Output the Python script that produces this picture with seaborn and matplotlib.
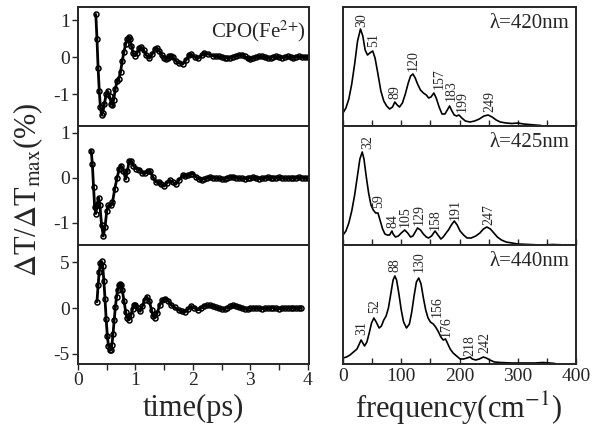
import numpy as np
import pandas as pd
import matplotlib
matplotlib.use('Agg')
import matplotlib.pyplot as plt
import seaborn as sns

sns.set_style('ticks')
plt.rcParams['font.family'] = ['Liberation Serif', 'DejaVu Serif']
plt.rcParams['mathtext.fontset'] = 'stix'
plt.rcParams['axes.unicode_minus'] = False

# ---- time-domain traces ----
t_420 = [0.31, 0.33, 0.35, 0.37, 0.39, 0.41, 0.43, 0.46, 0.49, 0.52,
         0.55, 0.58, 0.60, 0.62, 0.65, 0.68, 0.71, 0.74, 0.77, 0.80,
         0.83, 0.86, 0.88, 0.90, 0.93, 0.96, 0.99, 1.03, 1.07, 1.10,
         1.14, 1.19, 1.24, 1.29, 1.34, 1.37, 1.41, 1.46, 1.50, 1.53,
         1.56, 1.59, 1.62, 1.65, 1.70, 1.76, 1.82, 1.88, 1.93, 1.97,
         2.03, 2.09, 2.15, 2.20, 2.27, 2.35, 2.40, 2.45, 2.50, 2.55,
         2.60, 2.65, 2.70, 2.75, 2.80, 2.85, 2.90, 2.95, 3.00, 3.05,
         3.10, 3.15, 3.20, 3.25, 3.30, 3.35, 3.40, 3.45, 3.50, 3.55,
         3.60, 3.65, 3.70, 3.75, 3.80, 3.85, 3.90, 3.95, 4.00]
dT_420 = [1.15, 0.5, -0.3, -0.9, -1.35, -1.55, -1.5, -1.25, -1.0, -0.92,
          -1.05, -1.25, -1.28, -1.15, -0.85, -0.65, -0.58, -0.4, -0.1, 0.15,
          0.35, 0.5, 0.55, 0.5, 0.3, 0.1, 0.04, 0.12, 0.25, 0.27,
          0.2, 0.05, -0.03, 0.08, 0.22, 0.25, 0.18, 0.05, -0.01, -0.04,
          -0.02, 0.02, 0.02, 0.0, -0.1, -0.16, -0.19, -0.08, 0.05, 0.08,
          0.0, -0.03, 0.05, 0.11, 0.08, 0.04, 0.03, 0.02, 0.0, -0.01,
          -0.02, -0.01, 0.01, 0.03, 0.06, 0.07, 0.02, -0.03, -0.04, -0.02,
          0.0, 0.02, 0.02, 0.0, -0.02, -0.01, 0.01, 0.02, 0.0, -0.01,
          0.01, 0.02, 0.0, -0.01, 0.01, 0.02, 0.0, 0.0, 0.01]

t_425 = [0.23, 0.25, 0.27, 0.29, 0.31, 0.33, 0.36, 0.38, 0.41, 0.44,
         0.47, 0.50, 0.53, 0.57, 0.60, 0.64, 0.68, 0.72, 0.75, 0.79,
         0.83, 0.86, 0.89, 0.92, 0.96, 1.01, 1.07, 1.12, 1.17, 1.21,
         1.25, 1.30, 1.36, 1.41, 1.45, 1.50, 1.55, 1.60, 1.65, 1.70,
         1.76, 1.82, 1.87, 1.92, 1.96, 1.99, 2.05, 2.10, 2.15, 2.20,
         2.25, 2.30, 2.35, 2.40, 2.45, 2.50, 2.55, 2.60, 2.65, 2.70,
         2.75, 2.80, 2.85, 2.90, 2.95, 3.00, 3.05, 3.10, 3.15, 3.20,
         3.25, 3.30, 3.35, 3.40, 3.45, 3.50, 3.55, 3.60, 3.65, 3.70,
         3.75, 3.80, 3.85, 3.90, 3.95, 4.00]
dT_425 = [0.6, 0.3, -0.2, -0.65, -0.8, -0.6, -0.45, -0.6, -1.05, -1.3,
          -1.1, -0.75, -0.62, -0.62, -0.55, -0.25, 0.0, 0.2, 0.27, 0.15,
          -0.03, 0.15, 0.37, 0.38, 0.27, 0.2, 0.18, 0.1, 0.1, 0.15,
          0.14, 0.02, -0.1, -0.09, -0.15, -0.19, -0.12, -0.06, -0.1, -0.15,
          -0.05, 0.05, 0.03, 0.05, 0.08, 0.09, 0.02, -0.03, -0.05, -0.02,
          0.0, 0.01, 0.0, -0.01, -0.01, -0.03, -0.03, 0.0, 0.02, 0.02,
          0.0, -0.01, -0.01, -0.02, -0.01, 0.0, 0.01, -0.01, -0.02, -0.01,
          0.0, 0.01, 0.0, -0.01, 0.0, 0.01, 0.0, -0.01, 0.0, 0.0,
          -0.01, 0.0, 0.01, 0.0, 0.0, 0.0]

t_440 = [0.33, 0.35, 0.37, 0.39, 0.41, 0.43, 0.45, 0.47, 0.49, 0.51,
         0.53, 0.55, 0.57, 0.59, 0.61, 0.63, 0.65, 0.67, 0.69, 0.71,
         0.73, 0.75, 0.77, 0.80, 0.83, 0.86, 0.89, 0.92, 0.95, 0.98,
         1.00, 1.04, 1.08, 1.12, 1.16, 1.20, 1.24, 1.28, 1.31, 1.34,
         1.38, 1.42, 1.47, 1.52, 1.57, 1.62, 1.68, 1.75, 1.81, 1.87,
         1.92, 1.97, 2.02, 2.08, 2.14, 2.20, 2.25, 2.30, 2.35, 2.40,
         2.45, 2.50, 2.55, 2.60, 2.65, 2.70, 2.75, 2.80, 2.85, 2.90,
         2.95, 3.00, 3.05, 3.10, 3.15, 3.20, 3.25, 3.30, 3.35, 3.40,
         3.45, 3.50, 3.55, 3.60, 3.65, 3.70, 3.75, 3.80, 3.85, 3.88]
dT_440 = [0.7, 2.5, 4.0, 4.9, 5.1, 4.6, 3.0, 1.0, -1.2, -3.0,
          -4.1, -4.6, -4.6, -4.0, -2.8, -1.3, 0.1, 1.2, 2.0, 2.5,
          2.65, 2.55, 2.0, 0.8, -0.4, -1.1, -1.25, -0.8, -0.1, 0.35,
          0.4, 0.0, -0.35, 0.2, 0.9, 1.2, 0.8, -0.2, -0.9, -1.05,
          -0.5, 0.3, 0.9, 1.05, 0.8, 0.35, 0.1, -0.2, -0.35, -0.4,
          -0.1, 0.2, 0.05, -0.2, 0.0, 0.25, 0.3, 0.3, 0.25, 0.1,
          0.0, -0.1, -0.05, 0.05, 0.2, 0.3, 0.25, 0.1, 0.0, -0.1,
          -0.05, 0.0, 0.05, 0.05, 0.0, -0.05, 0.0, 0.0, 0.05, 0.05,
          0.0, -0.05, 0.0, 0.0, 0.02, 0.02, 0.0, 0.0, 0.0, 0.0]

# ---- Fourier spectra (arb. units) ----
f_420 = [0, 5, 10, 15, 20, 25, 30, 34, 38, 42, 46, 51, 55, 60, 65, 70, 75, 80,
         85, 89, 93, 97, 102, 107, 112, 116, 120, 124, 128, 133, 138, 143, 147,
         151, 156, 160, 165, 170, 175, 179, 183, 187, 191, 195, 199, 204, 210,
         218, 226, 234, 242, 249, 256, 263, 270, 280, 290, 300, 310, 320, 330, 340]
a_420 = [0.13, 0.18, 0.27, 0.42, 0.62, 0.85, 0.97, 0.90, 0.76, 0.71, 0.73, 0.75,
         0.68, 0.52, 0.35, 0.25, 0.20, 0.17, 0.19, 0.24, 0.21, 0.19, 0.23, 0.32,
         0.43, 0.50, 0.52, 0.48, 0.42, 0.36, 0.33, 0.31, 0.28, 0.29, 0.33, 0.28,
         0.19, 0.12, 0.12, 0.16, 0.20, 0.15, 0.11, 0.10, 0.11, 0.08, 0.05, 0.04,
         0.05, 0.07, 0.10, 0.11, 0.09, 0.06, 0.04, 0.03, 0.025, 0.03, 0.02,
         0.015, 0.01, 0.005]

f_425 = [0, 5, 10, 15, 20, 25, 29, 33, 36, 40, 44, 48, 52, 56, 60, 64, 68, 72,
         76, 80, 84, 86, 90, 95, 100, 106, 111, 116, 120, 124, 128, 133, 138,
         143, 147, 152, 158, 163, 168, 172, 177, 181, 186, 191, 196, 201, 207,
         213, 220, 228, 235, 241, 247, 253, 259, 265, 272, 280, 290, 300, 320,
         340, 360, 385]
a_425 = [0.10, 0.14, 0.22, 0.34, 0.50, 0.70, 0.86, 0.93, 0.86, 0.68, 0.52, 0.40,
         0.35, 0.32, 0.32, 0.24, 0.16, 0.11, 0.10, 0.10, 0.14, 0.11, 0.08, 0.09,
         0.12, 0.15, 0.12, 0.08, 0.09, 0.13, 0.17, 0.15, 0.11, 0.08, 0.07, 0.09,
         0.14, 0.10, 0.06, 0.08, 0.12, 0.15, 0.20, 0.24, 0.20, 0.14, 0.10, 0.07,
         0.07, 0.09, 0.12, 0.16, 0.18, 0.16, 0.12, 0.08, 0.05, 0.03, 0.02, 0.01,
         0.005, 0.0, 0.005, 0.0]

f_440 = [0, 6, 12, 18, 24, 28, 31, 34, 37, 41, 45, 49, 53, 57, 62, 66, 70, 74,
         78, 82, 86, 89, 92, 96, 100, 104, 109, 114, 118, 122, 126, 130, 134,
         138, 142, 146, 150, 155, 159, 164, 168, 172, 176, 180, 184, 189, 195,
         201, 207, 213, 218, 222, 228, 234, 241, 246, 252, 260, 270, 290, 310,
         330, 343, 355, 364]
a_440 = [0.06, 0.07, 0.09, 0.12, 0.15, 0.20, 0.24, 0.21, 0.18, 0.22, 0.31, 0.41,
         0.46, 0.42, 0.36, 0.38, 0.44, 0.48, 0.56, 0.70, 0.84, 0.88, 0.84, 0.70,
         0.54, 0.42, 0.36, 0.40, 0.52, 0.68, 0.82, 0.86, 0.80, 0.66, 0.54, 0.46,
         0.42, 0.40, 0.37, 0.32, 0.27, 0.24, 0.25, 0.20, 0.15, 0.11, 0.08, 0.05,
         0.05, 0.06, 0.07, 0.05, 0.04, 0.05, 0.07, 0.06, 0.04, 0.02, 0.015, 0.01,
         0.01, 0.01, 0.015, 0.01, 0.005]

peaks_420 = ['30', '51', '89', '120', '157', '183', '199', '249']
peaks_425 = ['32', '59', '84', '105', '129', '158', '191', '247']
peaks_440 = ['31', '52', '88', '130', '156', '176', '218', '242']

wavelengths = ['420', '425', '440']

# label anchor positions (layout only)
lab_pos_420 = [(32, 0.99), (52, 0.79), (89, 0.27), (120, 0.55), (165, 0.37),
               (186, 0.25), (204, 0.14), (252, 0.14)]
lab_pos_425 = [(42, 0.96), (61, 0.37), (85, 0.17), (106, 0.18), (131, 0.20),
               (158, 0.15), (192, 0.25), (250, 0.20)]
lab_pos_440 = [(32, 0.29), (55, 0.51), (89, 0.92), (131, 0.92), (161, 0.47),
               (178, 0.27), (218, 0.08), (243, 0.11)]

traces = [(t_420, dT_420), (t_425, dT_425), (t_440, dT_440)]
spectra = [(f_420, a_420), (f_425, a_425), (f_440, a_440)]
peak_labels = [(peaks_420, lab_pos_420), (peaks_425, lab_pos_425), (peaks_440, lab_pos_440)]
ylims = [(-1.85, 1.35), (-1.5, 1.15), (-6.1, 6.9)]
yticks = [[-1, 0, 1], [-1, 0, 1], [-5, 0, 5]]

fig = plt.figure(figsize=(6, 4.37), dpi=100)
h = 119 / 437
bottoms = [1 - 126 / 437, 1 - 245 / 437, 1 - 364 / 437]

for i in range(3):
    axl = fig.add_axes([78 / 600, bottoms[i], 231 / 600, h])
    axr = fig.add_axes([343 / 600, bottoms[i], 233 / 600, h])

    t, v = traces[i]
    df_t = pd.DataFrame({'time': t, 'dT': v})
    sns.lineplot(data=df_t, x='time', y='dT', ax=axl, color='black', lw=2.0,
                 marker='o', markersize=3.6, markerfacecolor='none',
                 markeredgecolor='black', markeredgewidth=1.1)
    axl.set_xlim(0, 4.02)
    axl.set_ylim(*ylims[i])
    axl.set_yticks(yticks[i])
    axl.set_xticks([0, 1, 2, 3, 4])
    axl.set_xticks([0.5, 1.5, 2.5, 3.5], minor=True)
    axl.tick_params(axis='both', which='both', direction='out', labelsize=14,
                    length=4, width=1, pad=2)
    axl.set_xlabel('')
    axl.set_ylabel('')

    f, a = spectra[i]
    df_s = pd.DataFrame({'freq': f, 'amp': a})
    sns.lineplot(data=df_s, x='freq', y='amp', ax=axr, color='black', lw=1.2)
    axr.set_xlim(0, 400)
    axr.set_ylim(0, 1.19)
    axr.set_yticks([])
    axr.set_xticks([0, 100, 200, 300, 400])
    axr.set_xticks([50, 150, 250, 350], minor=True)
    axr.tick_params(axis='x', which='both', direction='in', labelsize=14,
                    length=4, width=1, pad=3)
    axr.set_xlabel('')
    axr.set_ylabel('')

    labs, pos = peak_labels[i]
    for txt, (px, py) in zip(labs, pos):
        axr.text(px, py, txt, rotation=90, ha='center', va='bottom', fontsize=10)
    axr.text(0.97, 0.86, 'λ=' + wavelengths[i] + 'nm',
             transform=axr.transAxes, ha='right', va='center', fontsize=15)

    for ax in (axl, axr):
        for s in ax.spines.values():
            s.set_linewidth(1.4)
        if i < 2:
            ax.tick_params(axis='x', labelbottom=False)

axes = fig.axes
axes[0].text(0.985, 0.80, r'CPO(Fe$^{2{+}}$)', transform=axes[0].transAxes,
             ha='right', va='center', fontsize=15)

fig.text(193 / 600, 1 - 408 / 437, 'time(ps)', ha='center', va='center', fontsize=22)
fig.text(459 / 600, 1 - 408 / 437, r'frequency(cm$^{\mathrm{-1}}$)', ha='center', va='center', fontsize=22)
fig.text(28 / 600, 1 - 190 / 437, r'$\Delta$T/$\Delta$T$_{\rm max}$(%)', rotation=90,
         ha='center', va='center', fontsize=22)

fig.savefig('out.png', dpi=100)
